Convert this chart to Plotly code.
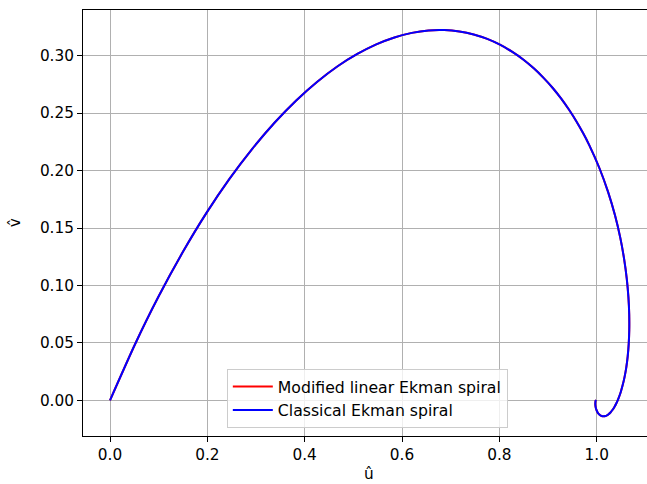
import plotly.graph_objects as go

# Values (u-hat, v-hat along the spiral)
u_hat = [0.0000, 0.0500, 0.0997, 0.1490, 0.1976, 0.2454, 0.2923, 0.3380, 0.3826, 0.4259,
         0.4677, 0.5082, 0.5471, 0.5844, 0.6202, 0.6544, 0.6870, 0.7179, 0.7473, 0.7751,
         0.8012, 0.8259, 0.8490, 0.8707, 0.8908, 0.9097, 0.9271, 0.9432, 0.9581, 0.9717,
         0.9842, 1.0059, 1.0235, 1.0376, 1.0484, 1.0563, 1.0618, 1.0652, 1.0668, 1.0669,
         1.0658, 1.0637, 1.0608, 1.0573, 1.0534, 1.0493, 1.0450, 1.0407, 1.0364, 1.0323,
         1.0283, 1.0245, 1.0210, 1.0177, 1.0147, 1.0120, 1.0084, 1.0054, 1.0030, 1.0011,
         0.9993, 0.9981, 0.9973, 0.9971, 0.9973, 0.9976, 0.9985]
v_hat = [0.0000, 0.0475, 0.0903, 0.1286, 0.1627, 0.1927, 0.2189, 0.2416, 0.2610, 0.2773,
         0.2908, 0.3015, 0.3099, 0.3159, 0.3199, 0.3220, 0.3223, 0.3211, 0.3185, 0.3146,
         0.3096, 0.3035, 0.2967, 0.2890, 0.2807, 0.2719, 0.2626, 0.2529, 0.2430, 0.2329,
         0.2226, 0.2018, 0.1812, 0.1610, 0.1416, 0.1231, 0.1057, 0.0896, 0.0748, 0.0613,
         0.0491, 0.0383, 0.0287, 0.0204, 0.0132, 0.0070, 0.0019, -0.0024, -0.0058, -0.0085,
         -0.0106, -0.0121, -0.0131, -0.0137, -0.0139, -0.0139, -0.0134, -0.0124, -0.0113, -0.0100,
         -0.0082, -0.0065, -0.0045, -0.0029, -0.0016, -0.0007, 0.0003]

series_names = ["Modified linear Ekman spiral", "Classical Ekman spiral"]
series_colors = ["#ff0000", "#0000ff"]
x_ticks = [0.0, 0.2, 0.4, 0.6, 0.8, 1.0]
y_ticks = [0.00, 0.05, 0.10, 0.15, 0.20, 0.25, 0.30]

fig = go.Figure()
for name, color in zip(series_names, series_colors):
    fig.add_trace(go.Scatter(x=u_hat, y=v_hat, mode="lines", name=name,
                             line=dict(color=color, width=2, shape="spline", smoothing=0.5)))

font = dict(family="DejaVu Sans", size=15.3, color="black")
legend_font = dict(family="DejaVu Sans", size=15.7, color="black")
fig.update_layout(
    width=647, height=484,
    margin=dict(l=83, r=0, t=10, b=48),
    paper_bgcolor="white", plot_bgcolor="white",
    font=font,
    showlegend=True,
    legend=dict(x=0.255, y=0.019, xanchor="left", yanchor="bottom",
                bgcolor="rgba(255,255,255,0.8)", bordercolor="#cccccc", borderwidth=1,
                font=legend_font, tracegroupgap=0, itemwidth=40),
    annotations=[
        dict(text="û", xref="paper", yref="paper", x=0.507, y=-0.089,
             xanchor="center", yanchor="middle", showarrow=False, font=font),
        dict(text="v̂", xref="paper", yref="paper", x=-0.1206, y=0.502,
             xanchor="center", yanchor="middle", showarrow=False, font=font, textangle=-90),
    ],
)
fig.update_xaxes(range=[-0.05548, 1.10335], tickvals=x_ticks, tickformat=".1f",
                 showgrid=True, gridcolor="#b0b0b0", gridwidth=1, zeroline=False,
                 showline=True, linecolor="black", linewidth=1, mirror=True,
                 ticks="outside", ticklen=5, tickcolor="black", tickfont=font)
fig.update_yaxes(range=[-0.0311, 0.3398], tickvals=y_ticks, tickformat=".2f",
                 showgrid=True, gridcolor="#b0b0b0", gridwidth=1, zeroline=False,
                 showline=True, linecolor="black", linewidth=1, mirror=False,
                 ticks="outside", ticklen=5, tickcolor="black", tickfont=font)

fig.write_html("out.html")
